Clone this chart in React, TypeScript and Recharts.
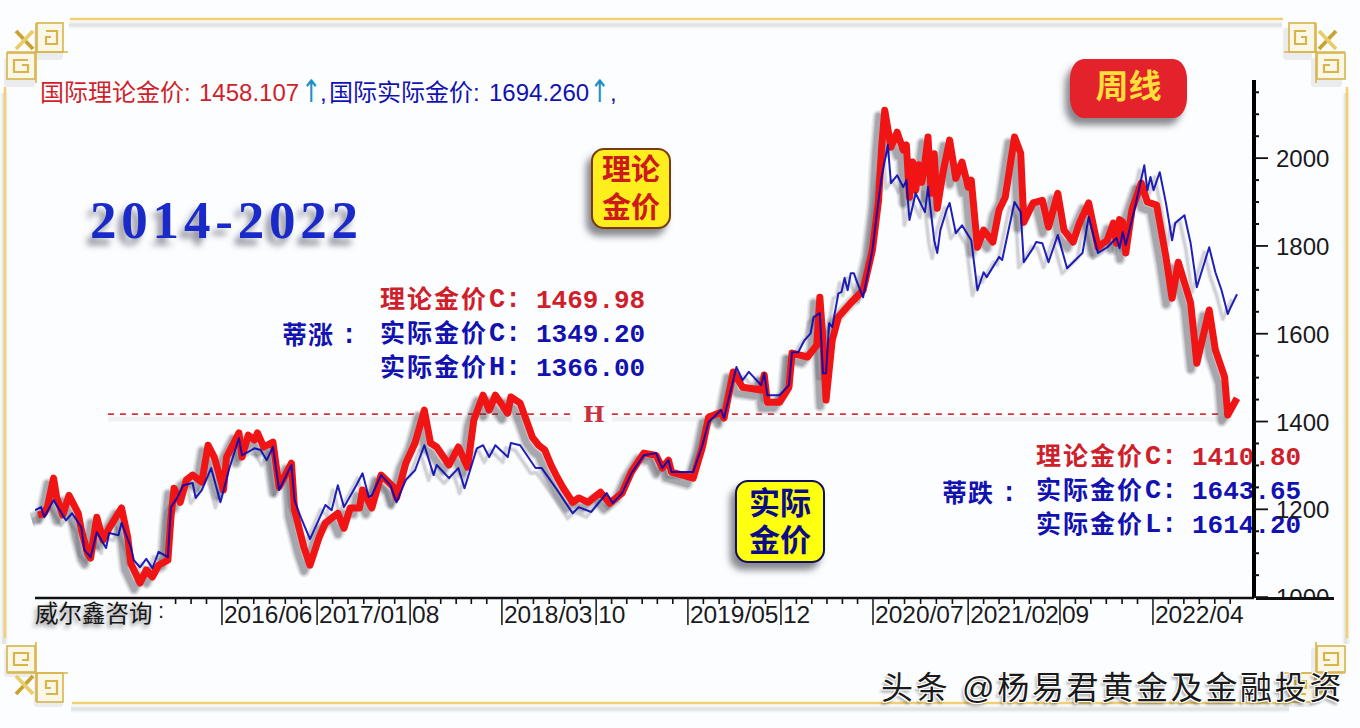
import React from "react";
import { LineChart, Line, XAxis, YAxis, ReferenceLine } from "recharts";

// Week number counted from the start of the plotted range, price in USD per ounce
const theoryWeeks = [1,3,4,6,7,9,11,14,15,17,18,20,22,24,28,30,31,34,36,38,40,43,44,45,47,49,51,54,56,58,61,62,66,67,69,71,72,74,77,79,83,84,87,89,92,94,98,100,102,105,106,109,112,116,117,120,123,126,128,130,134,137,140,142,145,147,149,153,154,157,159,161,163,165,167,169,171,174,176,179,183,186,190,193,197,201,203,205,206,213,216,218,222,223,226,229,235,236,237,241,244,245,250,253,254,255,256,258,260,264,268,271,273,274,275,277,279,281,282,283,284,285,286,287,288,289,290,291,292,293,294,296,298,300,302,303,305,307,310,312,314,317,319,320,323,326,328,331,333,336,338,341,344,347,349,350,351,352,353,355,358,360,363,366,368,370,374,376,380,382,385,386,389];
const theoryPrices = [1187,1191,1205,1271,1228,1187,1232,1191,1153,1100,1089,1182,1130,1157,1203,1137,1077,1032,1062,1046,1073,1084,1182,1248,1216,1267,1278,1262,1346,1319,1244,1319,1374,1319,1369,1358,1374,1342,1353,1251,1305,1198,1114,1073,1137,1169,1191,1157,1203,1203,1244,1203,1278,1251,1226,1305,1351,1426,1351,1342,1301,1342,1296,1403,1460,1426,1460,1419,1456,1442,1403,1364,1346,1335,1301,1273,1248,1216,1226,1216,1239,1214,1237,1285,1328,1323,1294,1312,1285,1271,1342,1410,1421,1408,1513,1478,1472,1506,1444,1444,1478,1556,1547,1574,1683,1585,1449,1585,1638,1670,1699,1790,1904,2025,2109,2025,2059,2018,2030,1911,1991,1927,1985,1945,1990,2048,1920,2010,1886,1930,1973,2041,1954,1991,1934,1950,1797,1836,1809,1882,1911,2048,2011,1854,1898,1904,1843,1920,1836,1809,1852,1898,1797,1813,1852,1806,1860,1854,1784,1882,1943,1900,1893,1775,1681,1763,1670,1533,1654,1563,1501,1415,1453];
const actualWeeks = [0,2,3,6,10,12,15,16,18,20,23,24,27,28,31,32,34,36,38,40,43,44,46,48,51,52,54,57,60,63,66,67,71,73,75,77,79,83,84,86,89,94,96,98,100,104,106,108,109,112,115,117,120,123,126,129,130,134,137,139,143,145,147,149,153,154,157,162,164,169,174,176,180,185,187,190,193,197,201,203,205,206,213,216,218,222,223,227,229,231,235,236,237,241,244,245,247,249,251,252,254,255,256,257,258,260,261,262,263,264,265,266,268,271,273,274,276,277,279,281,282,283,285,288,289,291,292,293,295,296,298,300,303,305,307,308,312,313,317,319,320,323,324,326,328,331,334,339,341,344,347,350,351,352,353,356,359,360,361,362,364,366,368,369,372,374,376,380,382,384,386,387,389];
const actualPrices = [1198,1205,1182,1221,1175,1191,1159,1107,1091,1148,1112,1146,1141,1169,1114,1084,1068,1087,1066,1103,1091,1205,1226,1255,1260,1226,1244,1294,1216,1296,1362,1323,1339,1335,1312,1342,1244,1301,1221,1182,1132,1210,1198,1255,1205,1255,1282,1228,1232,1278,1255,1216,1267,1289,1346,1278,1301,1271,1294,1248,1339,1346,1319,1346,1319,1351,1346,1294,1294,1244,1191,1205,1194,1237,1214,1237,1282,1323,1328,1294,1312,1285,1285,1346,1399,1426,1408,1524,1494,1513,1483,1510,1460,1460,1483,1558,1558,1585,1601,1638,1647,1510,1510,1624,1615,1692,1695,1727,1699,1738,1738,1718,1683,1790,1904,1957,2030,1943,1961,1934,1950,1859,1920,1877,1934,1813,1784,1836,1882,1898,1829,1847,1813,1699,1740,1729,1775,1768,1900,1877,1763,1795,1809,1806,1763,1825,1749,1784,1866,1784,1797,1818,1795,1831,1802,1888,1984,1927,1957,1927,1968,1898,1813,1852,1870,1806,1706,1797,1740,1699,1645,1661,1690];

const labelWeeks = [60.5,91.3,121.4,151.1,181.6,211.3,241.4,271.2,302,331.7,361.8];
const labelTexts = ["2016/06","2017/01","08","2018/03","10","2019/05","12","2020/07","2021/02","09","2022/04"];
const minorWeeks = [45.5,50.5,55.5,65.6,70.8,75.9,81,86.2,96.3,101.3,106.4,111.4,116.4,126.4,131.3,136.3,141.2,146.2,156.2,161.3,166.4,171.4,176.5,186.6,191.5,196.5,201.4,206.4,216.3,221.4,226.4,231.4,236.4,246.4,251.4,256.3,261.3,266.2,276.3,281.4,286.6,291.7,296.9,307,312,316.9,321.8,326.8,336.7,341.7,346.7,351.8,356.8,366.8,371.8,376.8,381.8,386.8];
const majorPrices = [1000,1200,1400,1600,1800,2000];
const minorPrices = [1050,1100,1150,1250,1300,1350,1450,1500,1550,1650,1700,1750,1850,1900,1950,2050,2100,2150];
const resistancePrice = 1417;

const theoryData = theoryWeeks.map((week, i) => ({ week, price: theoryPrices[i] }));
const actualData = actualWeeks.map((week, i) => ({ week, price: actualPrices[i] }));

const CJK = '"Liberation Sans","Noto Sans CJK SC",sans-serif';
const RED = "#cf1f2b";
const BLUE = "#1212b0";
const ARROW = "#1f8fc4";
const WEEK_DOMAIN: [number, number] = [0, 394.5];
const PRICE_DOMAIN: [number, number] = [998, 2178];

const abs = (x: number, y: number, extra: React.CSSProperties = {}): React.CSSProperties => ({
  position: "absolute", left: x, top: y, whiteSpace: "nowrap", lineHeight: 1, ...extra,
});

function XTick(props: any) {
  const { x, payload } = props;
  const y = props.y - 8;
  const idx = labelWeeks.indexOf(payload.value);
  if (idx < 0) return <line x1={x} x2={x} y1={y} y2={y + 6} stroke="#111" strokeWidth={1.6} />;
  return (
    <g>
      <line x1={x} x2={x} y1={y} y2={y + 27} stroke="#222" strokeWidth={1.6} />
      <text x={x + 2} y={y + 25} fontFamily="Liberation Sans" fontSize={24.5} fill="#1a1a20">{labelTexts[idx]}</text>
    </g>
  );
}

function YTick(props: any) {
  const { y, payload } = props;
  const x = props.x - 8;
  const v = payload.value;
  if (!majorPrices.includes(v)) return <line x1={x} x2={x + 5} y1={y} y2={y} stroke="#111" strokeWidth={2} />;
  return (
    <g>
      {v === 1000 && (
        <clipPath id="bottom-tick-clip"><rect x={x} y={y - 30} width={100} height={31} /></clipPath>
      )}
      <line x1={x} x2={x + 14} y1={y} y2={y} stroke="#111" strokeWidth={1.8} />
      <text x={x + 22} y={y + 9} fontFamily="Liberation Sans" fontSize={24} fill="#1a1a22"
        clipPath={v === 1000 ? "url(#bottom-tick-clip)" : undefined}>{v}</text>
    </g>
  );
}

function Corner({ t }: { t: string }) {
  const gold = "#d8b44c";
  return (
    <g transform={t} fill="none" stroke={gold} strokeWidth={1.6}>
      <rect x={37} y={23} width={26} height={29} fill="#fbf7e6" />
      <polyline points="46,31 57,31 57,44 46,44 46,37 51,37" strokeWidth={2.2} />
      <rect x={7} y={53} width={28} height={26} fill="#fbf7e6" />
      <polyline points="28,60 14,60 14,72 28,72 28,65 22,65" strokeWidth={2.2} />
      <line x1={7} x2={68} y1={52} y2={52} />
      <line x1={36} x2={36} y1={23} y2={83} />
      <line x1={16} x2={33} y1={31} y2={49} strokeWidth={3.8} stroke="#c9a22f" />
      <line x1={33} x2={16} y1={31} y2={49} strokeWidth={3.8} stroke="#e9cd6a" />
    </g>
  );
}

function CornerShade({ t }: { t: string }) {
  return (
    <g transform={t} fill="#5a5a50">
      <rect x={37} y={23} width={29} height={32} fillOpacity={0.1} rx={3} />
      <rect x={7} y={53} width={31} height={29} fillOpacity={0.1} rx={3} />
    </g>
  );
}

function Frame() {
  const c = "#f0d070";
  const edges = [[70, 19, 1283, 19], [72, 703, 1290, 703], [5, 87, 5, 638], [1347, 87, 1347, 638]];
  const corners = ["", "translate(1352,0) scale(-1,1)", "translate(0,725) scale(1,-1)", "translate(1352,725) scale(-1,-1)"];
  return (
    <svg width={1360} height={728} style={{ position: "absolute", left: 0, top: 0 }}>
      <g transform="translate(-1,6)">
        {edges.map((e, i) => (
          <g key={i} stroke="#60605a">
            <line x1={e[0]} y1={e[1]} x2={e[2]} y2={e[3]} strokeWidth={8} strokeOpacity={0.04} />
            <line x1={e[0]} y1={e[1]} x2={e[2]} y2={e[3]} strokeWidth={5} strokeOpacity={0.06} />
            <line x1={e[0]} y1={e[1]} x2={e[2]} y2={e[3]} strokeWidth={3} strokeOpacity={0.08} />
          </g>
        ))}
      </g>
      <g transform="translate(-3,5)">{corners.map((t) => <CornerShade key={t} t={t} />)}</g>
      {edges.map((e, i) => <line key={i} x1={e[0]} y1={e[1]} x2={e[2]} y2={e[3]} stroke={c} strokeWidth={2.6} />)}
      {corners.map((t) => <Corner key={t} t={t} />)}
    </svg>
  );
}

function Annotation({ x, y, rows, sideLabel, sideX, sideY }: any) {
  const mono = '"Liberation Mono"';
  return (
    <>
      {rows.map((r: any, i: number) => (
        <React.Fragment key={i}>
          <div style={abs(x, y + i * 34, { fontFamily: CJK, fontWeight: 700, fontSize: 25, letterSpacing: 2, color: r.color })}>{r.name}</div>
          <div style={abs(x + 109, y + i * 34, { fontFamily: mono, fontWeight: 700, fontSize: 27, color: r.color })}>{r.suffix}</div>
          <div style={abs(x + 125, y + i * 34, { fontFamily: mono, fontWeight: 700, fontSize: 27, color: r.color })}>:</div>
          <div style={abs(x + 156, y + i * 34 + 1, { fontFamily: mono, fontWeight: 700, fontSize: 26, color: r.color })}>{r.value}</div>
        </React.Fragment>
      ))}
      <div style={abs(sideX, sideY, { fontFamily: CJK, fontWeight: 700, fontSize: 25, letterSpacing: 1, color: BLUE })}>{sideLabel}</div>
      <div style={abs(sideX + 59, sideY, { fontFamily: mono, fontWeight: 700, fontSize: 27, color: BLUE })}>:</div>
    </>
  );
}

function Badge({ x, y, w, h, bg, border, color, text, size, gap }: any) {
  return (
    <div style={{
      position: "absolute", left: x, top: y, width: w, height: h, boxSizing: "border-box",
      background: bg, border: `2px solid ${border}`, borderRadius: 13,
      boxShadow: "-5px 7px 7px rgba(40,40,50,0.55)", color, fontFamily: CJK, fontWeight: 700,
      fontSize: size, lineHeight: `${gap}px`, textAlign: "center", display: "flex", flexDirection: "column",
      justifyContent: "center",
    }}>
      {text.map((t: string) => <div key={t}>{t}</div>)}
    </div>
  );
}

// One series on its own transparent layer; dx/dy shift a translucent copy into a drop shadow.
function SeriesLayer({ data, stroke, width, opacity, dx = 0, dy = 0 }: any) {
  return (
    <div style={{ position: "absolute", left: dx, top: dy }}>
      <LineChart width={1360} height={728} margin={{ top: 80, right: 106, left: 35, bottom: 130 }}>
        <XAxis xAxisId="w" dataKey="week" type="number" domain={WEEK_DOMAIN} hide allowDataOverflow />
        <YAxis yAxisId="p" type="number" domain={PRICE_DOMAIN} hide allowDataOverflow />
        <Line xAxisId="w" yAxisId="p" data={data} dataKey="price" type="linear" stroke={stroke} strokeOpacity={opacity}
          strokeWidth={width} dot={false} activeDot={false} isAnimationActive={false} strokeLinejoin="round" />
      </LineChart>
    </div>
  );
}

function Shadow({ data, dx, dy, layers }: any) {
  return layers.map((l: number[], i: number) => (
    <SeriesLayer key={i} data={data} stroke="#30303a" width={l[0]} opacity={l[1]} dx={dx} dy={dy} />
  ));
}

export default function App() {
  return (
    <div style={{ position: "absolute", left: 0, top: 0, width: 1360, height: 728, background: "#fcfdff", overflow: "hidden" }}>
      <Frame />

      <div style={abs(40, 81, { fontFamily: CJK, fontSize: 24, color: RED })}>国际理论金价:</div>
      <div style={abs(199, 81, { fontFamily: CJK, fontSize: 24, color: RED })}>1458.107</div>
      <div style={abs(301, 80, { fontFamily: '"DejaVu Sans"', fontSize: 24, color: ARROW, transform: "scaleY(1.3)" })}>↑</div>
      <div style={abs(320, 81, { fontFamily: CJK, fontSize: 24, color: BLUE })}>,</div>
      <div style={abs(329, 81, { fontFamily: CJK, fontSize: 24, color: BLUE })}>国际实际金价:</div>
      <div style={abs(489, 81, { fontFamily: CJK, fontSize: 24, color: BLUE })}>1694.260</div>
      <div style={abs(589.5, 80, { fontFamily: '"DejaVu Sans"', fontSize: 24, color: ARROW, transform: "scaleY(1.3)" })}>↑</div>
      <div style={abs(610, 81, { fontFamily: CJK, fontSize: 24, color: BLUE })}>,</div>

      <div style={abs(90, 194, {
        fontFamily: '"Liberation Serif"', fontWeight: 700, fontSize: 53, letterSpacing: 4.8, color: "#1a2ac8",
        textShadow: "-5px 7px 6px rgba(40,40,60,0.5)",
      })}>2014-2022</div>

      <div style={{
        position: "absolute", left: 1070, top: 59, width: 117, height: 59, background: "#e3222b",
        borderRadius: "14px 14px 14px 14px / 20px", boxShadow: "-5px 7px 7px rgba(40,40,50,0.55)",
        color: "#ffdf3a", fontFamily: CJK, fontWeight: 700, fontSize: 33, textAlign: "center", lineHeight: "56px",
      }}>周线</div>

      <Badge x={591} y={148} w={80} h={81} bg="#ffee1e" border="#7a3a10" color="#cc1a1a" text={["理论", "金价"]} size={29} gap={38} />
      <Badge x={735} y={480} w={90} h={83} bg="#ffff10" border="#10105a" color="#0c0c88" text={["实际", "金价"]} size={31} gap={37} />

      <Annotation x={380} y={287} sideLabel="蒂涨" sideX={282} sideY={323} rows={[
        { name: "理论金价", suffix: "C", value: "1469.98", color: RED },
        { name: "实际金价", suffix: "C", value: "1349.20", color: BLUE },
        { name: "实际金价", suffix: "H", value: "1366.00", color: BLUE },
      ]} />
      <Annotation x={1036} y={444} sideLabel="蒂跌" sideX={942} sideY={481} rows={[
        { name: "理论金价", suffix: "C", value: "1410.80", color: RED },
        { name: "实际金价", suffix: "C", value: "1643.65", color: BLUE },
        { name: "实际金价", suffix: "L", value: "1614.20", color: BLUE },
      ]} />

      <div style={abs(583, 402, { fontFamily: '"DejaVu Serif"', fontWeight: 700, fontSize: 23, color: "#c8323c" })}>H</div>

      <div style={{ position: "absolute", left: 0, top: 0 }}>
        <LineChart width={1360} height={728} margin={{ top: 80, right: 106, left: 35, bottom: 130 }}>
          <XAxis xAxisId="w" dataKey="week" type="number" domain={WEEK_DOMAIN} hide allowDataOverflow />
          <YAxis yAxisId="p" type="number" domain={PRICE_DOMAIN} hide allowDataOverflow />
          <ReferenceLine xAxisId="w" yAxisId="p" ifOverflow="visible"
            segment={[{ x: 23.6, y: resistancePrice - 11 }, { x: 173.8, y: resistancePrice - 11 }]}
            stroke="#60605a" strokeOpacity={0.08} strokeWidth={5} />
          <ReferenceLine xAxisId="w" yAxisId="p" ifOverflow="visible"
            segment={[{ x: 186.7, y: resistancePrice - 11 }, { x: 387.4, y: resistancePrice - 11 }]}
            stroke="#60605a" strokeOpacity={0.08} strokeWidth={5} />
          <ReferenceLine xAxisId="w" yAxisId="p" ifOverflow="visible"
            segment={[{ x: 23.6, y: resistancePrice }, { x: 173.8, y: resistancePrice }]}
            stroke="#d3323c" strokeWidth={1.8} strokeDasharray="6 6" />
          <ReferenceLine xAxisId="w" yAxisId="p" ifOverflow="visible"
            segment={[{ x: 186.7, y: resistancePrice }, { x: 387.4, y: resistancePrice }]}
            stroke="#d3323c" strokeWidth={1.8} strokeDasharray="6 6" />
        </LineChart>
      </div>

      <Shadow data={actualData} dx={-5} dy={5} layers={[[6, 0.05], [4, 0.07], [2.5, 0.1]]} />
      <Shadow data={theoryData} dx={-6} dy={6} layers={[[13, 0.08], [10.5, 0.11], [8, 0.15], [6, 0.17]]} />
      <SeriesLayer data={theoryData} stroke="#f01414" width={7} opacity={1} />
      <SeriesLayer data={actualData} stroke="#0808b0" width={2} opacity={0.9} />

      <div style={{ position: "absolute", left: 0, top: 0 }}>
        <LineChart width={1360} height={728} data={actualData} margin={{ top: 80, right: 0, left: 35, bottom: 0 }}>
          <XAxis
            xAxisId="w" dataKey="week" type="number" domain={WEEK_DOMAIN} height={130} allowDataOverflow
            ticks={[...minorWeeks, ...labelWeeks].sort((a, b) => a - b)} interval={0}
            tick={<XTick />} tickLine={false} axisLine={{ stroke: "#111", strokeWidth: 2.6 }}
          />
          <YAxis
            yAxisId="p" orientation="right" type="number" domain={PRICE_DOMAIN} width={106} allowDataOverflow
            ticks={[...majorPrices, ...minorPrices].sort((a, b) => a - b)} interval={0}
            tick={<YTick />} tickLine={false} axisLine={{ stroke: "#000", strokeWidth: 4 }}
          />
        </LineChart>
      </div>

      <div style={{ position: "absolute", left: 1256, top: 597, width: 78, height: 2.6, background: "#111" }} />

      <div style={abs(35, 603, {
        fontFamily: CJK, fontSize: 23.5, color: "#161616", textShadow: "-2px 3px 4px rgba(60,60,60,0.6)",
      })}>威尔鑫咨询</div>
      <div style={abs(158, 600, { fontFamily: CJK, fontSize: 22, color: "#222" })}>:</div>

      <div style={abs(881, 672, {
        fontFamily: CJK, fontSize: 32, letterSpacing: 2.7, color: "#1a1a1a",
        textShadow: "1px 1px 0 #fff, -1px -1px 0 #fff, 1px -1px 0 #fff, -1px 1px 0 #fff, -2px 3px 3px rgba(0,0,0,0.4)",
      })}>头条 @杨易君黄金及金融投资</div>
    </div>
  );
}
